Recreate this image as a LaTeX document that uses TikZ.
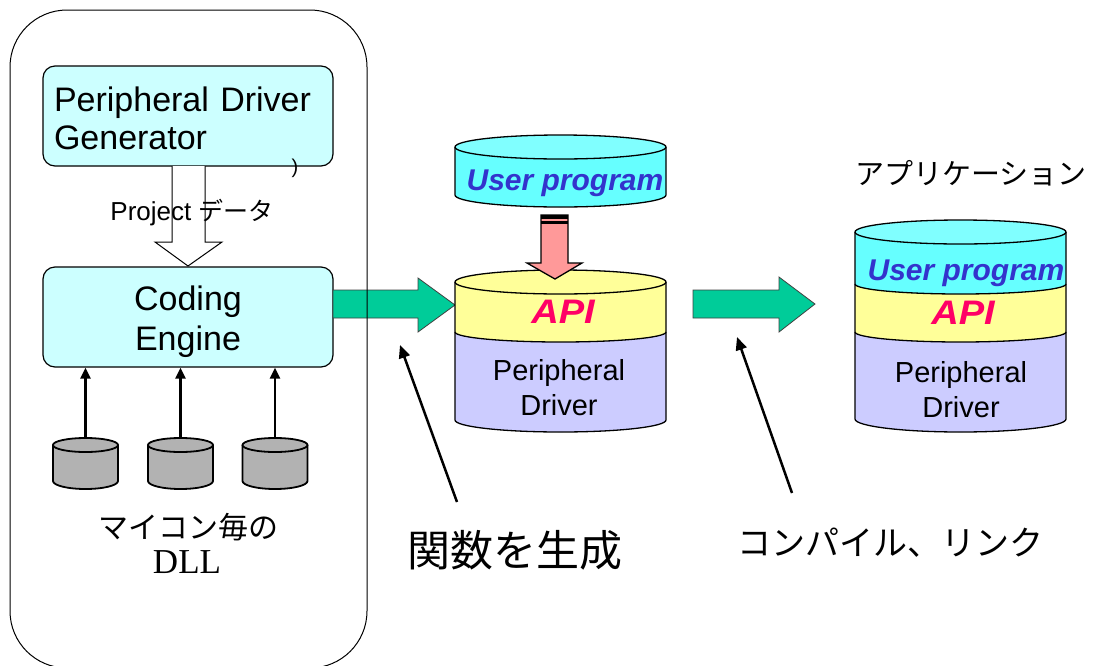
\documentclass[tikz,border=0pt]{standalone}
\usepackage{fontspec}
\usepackage{graphicx}
\setmainfont{Liberation Sans}
\newfontfamily\jpfont{Noto Sans CJK JP}
\newfontfamily\dllserif{Liberation Serif}
\usetikzlibrary{arrows.meta}

\definecolor{boxcyan}{HTML}{CCFFFF}
\definecolor{flowgreen}{HTML}{00CC99}
\definecolor{upbody}{HTML}{66FFFF}
\definecolor{uptop}{HTML}{80FFFF}
\definecolor{apiyellow}{HTML}{FFFF99}
\definecolor{drvpurple}{HTML}{CCCCFF}
\definecolor{dllgray}{HTML}{B2B2B2}
\definecolor{mergepink}{HTML}{FF9999}
\definecolor{apired}{HTML}{FF0066}
\definecolor{progblue}{HTML}{3333CC}

\begin{document}
\begin{tikzpicture}[x=1pt,y=-1pt,
  outline/.style={draw=black,line width=1.3pt},
  toolbox/.style={draw=black,line width=1.2pt,fill=boxcyan,rounded corners=12pt,
    minimum width=290pt,minimum height=100pt},
  blockarrow/.style={draw=black!75,line width=0.8pt,fill=flowgreen},
  uparrow/.style={line width=2.5pt,-{Triangle[length=11pt,width=10pt]}},
  pointer/.style={line width=2.5pt,-{Triangle[length=13pt,width=11pt]}},
  hole/.style={inner sep=0pt,minimum width=#1,minimum height=0pt},
  progtext/.style={font=\fontsize{30}{32}\selectfont\bfseries\itshape,text=progblue,inner sep=0pt},
  apitext/.style={font=\fontsize{34}{36}\selectfont\bfseries\itshape,text=apired,inner sep=0pt},
  drvtext/.style={font=\fontsize{29}{35}\selectfont,align=center,inner sep=0pt},
]
\useasboundingbox (0,0) rectangle (1093,665);

% ---------- generator / coding engine block ----------
\node[toolbox,align=left,text width=268pt,inner xsep=11pt,
      font=\fontsize{34}{38}\selectfont] (pdg) at (188,116)
  {\rule{0pt}{30pt}Peripheral Driver\\Generator};
\node[font=\fontsize{20}{20}\selectfont,inner sep=0pt] (paren) at (295,168) {)};

\node[toolbox,align=center,font=\fontsize{34}{40}\selectfont] (ce) at (188,317)
  {\rule{0pt}{34pt}Coding\\Engine};

% hollow arrow carrying the project data
\draw[line width=1pt,fill=white] (172,166) -- (172,242) -- (155,242) -- (188,266)
  -- (222,242) -- (205,242) -- (205,166);
\node[font=\fontsize{26}{30}\selectfont,inner sep=0pt] (projdata) at (192,213)
  {Project {\jpfont\fontsize{25}{30}\selectfont データ}};

% per-MCU DLL drums
\foreach \cx/\nm in {85.5/dllA,180.5/dllB,275/dllC}{
  \fill[dllgray] (\cx-32.5,445) -- (\cx-32.5,481)
     arc[start angle=180,end angle=0,x radius=32.5,y radius=8] -- (\cx+32.5,445) -- cycle;
  \draw[line width=1.8pt] (\cx-32.5,445) -- (\cx-32.5,481)
     arc[start angle=180,end angle=0,x radius=32.5,y radius=8] -- (\cx+32.5,445);
  \draw[line width=1.8pt,fill=dllgray] (\cx,445) ellipse[x radius=32.5,y radius=7];
  \node[hole=65pt] (\nm) at (\cx,438) {};
  \draw[uparrow] (\nm.north) -- (\nm.north |- ce.south);
}
\node[font=\jpfont\fontsize{30}{30}\selectfont,inner sep=0pt] (dlljp) at (188,527) {マイコン毎の};
\node[font=\dllserif\fontsize{35}{35}\selectfont,inner sep=0pt] (dlllat) at (187,562) {DLL};

% generated functions flow out of the engine
\draw[blockarrow] (333,290) -- (418,290) -- (418,278) -- (455,305) -- (418,332)
  -- (418,318) -- (333,318) -- cycle;

% enclosing tool frame
\draw[line width=1pt,rounded corners=57pt] (10,10) rectangle (367,668);

% ---------- user program drum ----------
\fill[upbody] (455,147) -- (455,195)
  arc[start angle=180,end angle=0,x radius=105.5,y radius=12] -- (666,147) -- cycle;
\draw[outline] (455,147) -- (455,195)
  arc[start angle=180,end angle=0,x radius=105.5,y radius=12] -- (666,147);
\draw[outline,fill=uptop] (560.5,147) ellipse[x radius=105.5,y radius=12];
\node[progtext] (up) at (565,183) {User program};

% ---------- generated driver drum ----------
\fill[drvpurple] (455,332) -- (455,420)
  arc[start angle=180,end angle=0,x radius=105.5,y radius=12] -- (666,332)
  arc[start angle=0,end angle=180,x radius=105.5,y radius=10] -- cycle;
\fill[apiyellow] (455,282) -- (455,332)
  arc[start angle=180,end angle=0,x radius=105.5,y radius=10] -- (666,282)
  arc[start angle=0,end angle=180,x radius=105.5,y radius=12] -- cycle;
\draw[outline] (455,282) -- (455,420)
  arc[start angle=180,end angle=0,x radius=105.5,y radius=12] -- (666,282);
\draw[outline] (455,332) arc[start angle=180,end angle=0,x radius=105.5,y radius=10];
\draw[outline,fill=apiyellow] (560.5,282) ellipse[x radius=105.5,y radius=12];
\node[apitext] (api) at (563,312) {\scalebox{1.12}[1]{API}};
\node[drvtext] (drv) at (559,388) {Peripheral\\Driver};

% user program merged into the API
\draw[line width=1.3pt,fill=mergepink] (541,215) -- (541,263) -- (527,263) -- (555,279)
  -- (582,263) -- (568,263) -- (568,215) -- cycle;
\fill (541,215) rectangle (568,219);
\fill (541,221) rectangle (568,223.5);

% compile and link
\draw[blockarrow] (693,290) -- (779,290) -- (779,277) -- (815,304) -- (779,332)
  -- (779,318) -- (693,318) -- cycle;

% ---------- application drum ----------
\fill[drvpurple] (855,332) -- (855,419)
  arc[start angle=180,end angle=0,x radius=105.5,y radius=13] -- (1066,332)
  arc[start angle=0,end angle=180,x radius=105.5,y radius=10] -- cycle;
\fill[apiyellow] (855,284) -- (855,332)
  arc[start angle=180,end angle=0,x radius=105.5,y radius=10] -- (1066,284)
  arc[start angle=0,end angle=180,x radius=105.5,y radius=10] -- cycle;
\fill[upbody] (855,232) -- (855,284)
  arc[start angle=180,end angle=0,x radius=105.5,y radius=10] -- (1066,232)
  arc[start angle=0,end angle=180,x radius=105.5,y radius=12] -- cycle;
\draw[outline] (855,232) -- (855,419)
  arc[start angle=180,end angle=0,x radius=105.5,y radius=13] -- (1066,232);
\draw[outline] (855,284) arc[start angle=180,end angle=0,x radius=105.5,y radius=10];
\draw[outline] (855,332) arc[start angle=180,end angle=0,x radius=105.5,y radius=10];
\draw[outline,fill=uptop] (960.5,232) ellipse[x radius=105.5,y radius=12];
\node[progtext] (appup) at (966,273) {User program};
\node[apitext] (appapi) at (963,313) {\scalebox{1.12}[1]{API}};
\node[drvtext] (appdrv) at (961,390) {Peripheral\\Driver};
\node[font=\jpfont\fontsize{29}{29}\selectfont,inner sep=0pt] (apptitle) at (971,173)
  {アプリケーション};

% ---------- step captions ----------
\node[font=\jpfont\fontsize{43}{43}\selectfont,inner sep=0pt] (gen) at (515,550) {関数を生成};
\node[font=\jpfont\fontsize{34}{34}\selectfont,inner sep=0pt] (cl) at (890,543) {コンパイル、リンク};
\coordinate (genfrom) at (457,502);
\coordinate (gento) at (400,345);
\coordinate (clfrom) at (792,493);
\coordinate (clto) at (737,337);
\draw[pointer] (genfrom) -- (gento);
\draw[pointer] (clfrom) -- (clto);
\end{tikzpicture}
\end{document}
